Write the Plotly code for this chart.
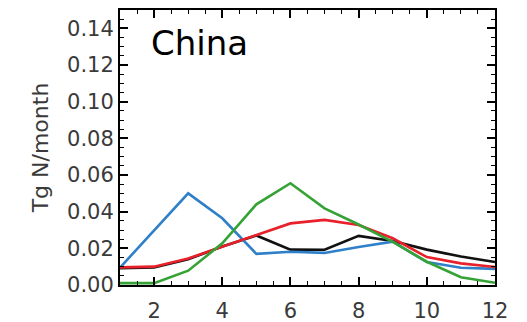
import plotly.graph_objects as go

months = list(range(1, 13))
black_vals = [0.0092, 0.0096, 0.0140, 0.0210, 0.0270, 0.0193, 0.0192, 0.0268, 0.0240, 0.0193, 0.0155, 0.0125]
blue_vals = [0.0095, 0.0300, 0.0500, 0.0364, 0.0170, 0.0181, 0.0175, 0.0207, 0.0236, 0.0125, 0.0094, 0.0088]
red_vals = [0.0096, 0.0100, 0.0145, 0.0209, 0.0273, 0.0336, 0.0355, 0.0327, 0.0255, 0.0152, 0.0118, 0.0098]
green_vals = [0.0010, 0.0010, 0.0078, 0.0227, 0.0440, 0.0555, 0.0418, 0.0330, 0.0235, 0.0127, 0.0042, 0.0012]

series = [
    ("black", black_vals, "#111111"),
    ("blue", blue_vals, "#2f80c8"),
    ("red", red_vals, "#e8202a"),
    ("green", green_vals, "#35a235"),
]

fig = go.Figure()
for name, vals, col in series:
    fig.add_trace(go.Scatter(x=months, y=vals, mode="lines", name=name,
                             line=dict(color=col, width=2.6)))

tickfont = dict(family="DejaVu Sans", size=21, color="#3a3a3a")
fig.update_layout(
    width=527, height=322,
    margin=dict(l=120, r=32, t=10, b=37, autoexpand=False),
    paper_bgcolor="white", plot_bgcolor="white",
    showlegend=False,
    font=dict(family="DejaVu Sans"),
    xaxis=dict(range=[1, 12], tickvals=[2, 4, 6, 8, 10, 12], ticks="inside", ticklen=8,
               tickwidth=1.5, tickcolor="black", showline=True, linecolor="black", linewidth=2,
               mirror="ticks", showgrid=False, zeroline=False, tickfont=tickfont,
               ticklabelstandoff=6, automargin=False,
               minor=dict(dtick=0.5, tick0=1, ticks="inside", ticklen=4, tickwidth=1.2,
                          tickcolor="black", showgrid=False)),
    yaxis=dict(range=[0, 0.15], tickvals=[0, 0.02, 0.04, 0.06, 0.08, 0.10, 0.12, 0.14],
               ticktext=["0.00", "0.02", "0.04", "0.06", "0.08", "0.10", "0.12", "0.14"],
               ticks="inside", ticklen=8, tickwidth=1.5, tickcolor="black",
               showline=True, linecolor="black", linewidth=2, mirror="ticks",
               showgrid=False, zeroline=False, tickfont=tickfont, automargin=False,
               title=dict(text="Tg N/month", font=dict(family="DejaVu Sans", size=22, color="#3a3a3a"), standoff=12),
               minor=dict(dtick=0.005, tick0=0, ticks="inside", ticklen=4, tickwidth=1.2,
                          tickcolor="black", showgrid=False)),
)
fig.add_annotation(text="China", xref="paper", yref="paper", x=(149 - 120) / 375, y=(285 - 43) / 275,
                   xanchor="left", yanchor="middle", showarrow=False,
                   font=dict(family="DejaVu Sans", size=34, color="black"))

fig.write_html("out.html", config={"displayModeBar": False},
               post_script="document.body.style.margin='0';")
